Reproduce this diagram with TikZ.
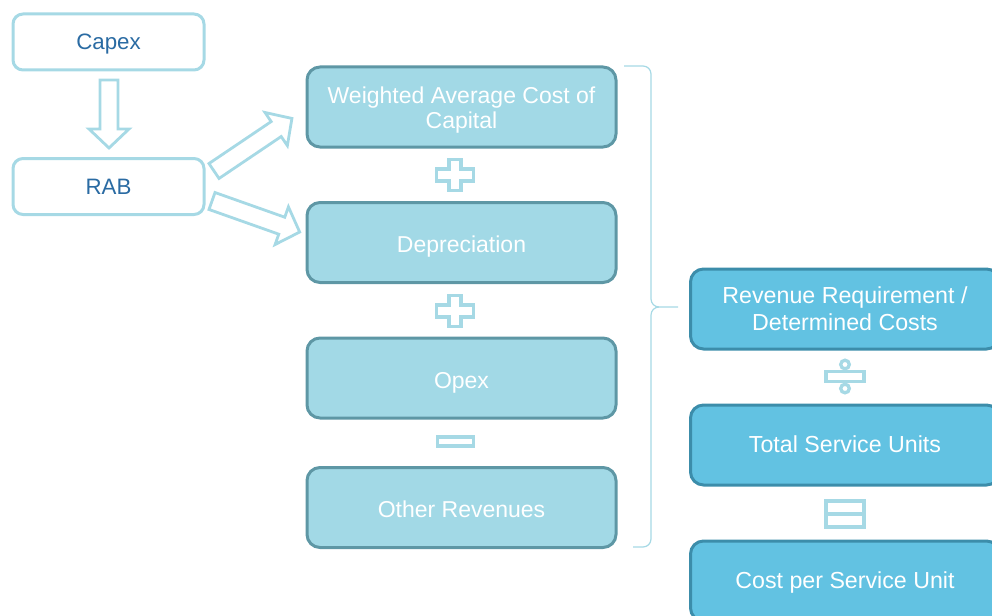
\documentclass[tikz,border=0pt]{standalone}
\usepackage{fontspec}
\setmainfont{Liberation Sans}
\definecolor{lightline}{HTML}{A6D9E5}
\definecolor{leftfill}{HTML}{A2D9E6}
\definecolor{leftdraw}{HTML}{5E97A5}
\definecolor{rightfill}{HTML}{62C2E2}
\definecolor{rightdraw}{HTML}{3C8DAA}
\definecolor{capextext}{HTML}{2A6BA3}
\tikzset{
  topbox/.style={draw=lightline, line width=3pt, fill=white, rounded corners=10pt,
    minimum width=191pt, minimum height=56pt, text=capextext,
    text height=20pt, text depth=4pt,
    font=\fontsize{22.3}{26}\selectfont},
  lbox/.style={draw=leftdraw, line width=3pt, fill=leftfill, rounded corners=13pt,
    minimum width=309pt, minimum height=80pt, text=white, align=center,
    font=\fontsize{23}{25}\selectfont},
  rbox/.style={draw=rightdraw, line width=3pt, fill=rightfill, rounded corners=13pt,
    minimum width=309pt, minimum height=80pt, text=white, align=center,
    font=\fontsize{23.2}{26.5}\selectfont},
  lone/.style={text height=24pt, text depth=4pt},
  ltwo/.style={text height=46.6pt, text depth=4pt},
  rone/.style={text height=19.5pt, text depth=4pt},
  rtwo/.style={text height=46pt, text depth=4pt},
  hollow/.style={draw=lightline, line width=2.8pt, fill=white, line join=miter},
  sign/.style={draw=lightline, line width=3.3pt, fill=white},
  bracepath/.style={draw=lightline, line width=1.2pt}
}
\newcommand{\hollowarrow}[3]{% position, angle, length
  \begin{scope}[shift={#1}, rotate=#2]
    \draw[hollow] (0,-9) -- (#3-19,-9) -- (#3-19,-20) -- (#3,0) -- (#3-19,20) -- (#3-19,9) -- (0,9) -- cycle;
  \end{scope}}
\newcommand{\plussign}[1]{%
  \begin{scope}[shift={#1}]
    \draw[sign] (-6,-15.5) -- (6,-15.5) -- (6,-6) -- (18.5,-6) -- (18.5,6) -- (6,6) -- (6,15.5) -- (-6,15.5) -- (-6,6) -- (-18.5,6) -- (-18.5,-6) -- (-6,-6) -- cycle;
  \end{scope}}
\begin{document}
\begin{tikzpicture}[x=1pt, y=-1pt]
\useasboundingbox (0,0) rectangle (992,615);

% top-left boxes
\node[topbox] (capex) at (108.5,42) {Capex};
\node[topbox] (rab) at (108.5,186.5) {RAB};

% left column
\node[lbox, ltwo] (wacc) at (461.5,107) {Weighted Average Cost of\\Capital};
\node[lbox, lone] (depr) at (461.5,242.5) {Depreciation};
\node[lbox, lone] (opex) at (461.5,378) {Opex};
\node[lbox, lone] (other) at (461.5,507.5) {Other Revenues};

% right column
\node[rbox, rtwo] (rev) at (845,309) {Revenue Requirement /\\Determined Costs};
\node[rbox, rone] (tsu) at (845,445) {Total Service Units};
\node[rbox, rone] (cpsu) at (845,581) {Cost per Service Unit};

% hollow arrows
\coordinate (a1) at (109,80);
\coordinate (a2) at (214,171);
\coordinate (a3) at (212,201);
\hollowarrow{(a1)}{-90}{68}
\hollowarrow{(a2)}{34}{94}
\hollowarrow{(a3)}{-19.5}{93}

% operator signs
\plussign{(455,175)}
\plussign{(455,311)}
\draw[sign] (437.5,437) rectangle (473.5,446);
% divide
\draw[sign] (826,371.5) rectangle (864,381.5);
\draw[sign] (845,364.5) circle (4.3);
\draw[sign] (845,388.5) circle (4.3);
% equals
\draw[sign] (826,501) rectangle (864,527);
\draw[sign] (826,514) -- (864,514);

% brace
\coordinate (bt) at (624,66);
\coordinate (bm) at (678,307);
\coordinate (bb) at (633,547);
\draw[bracepath] (bt) -- (643,66) to[out=0,in=90] (651,74) -- (651,299)
  to[out=-90,in=180] (659,307) -- (bm);
\draw[bracepath] (659,307) to[out=180,in=90] (651,315) -- (651,539)
  to[out=-90,in=0] (643,547) -- (bb);
\end{tikzpicture}
\end{document}
